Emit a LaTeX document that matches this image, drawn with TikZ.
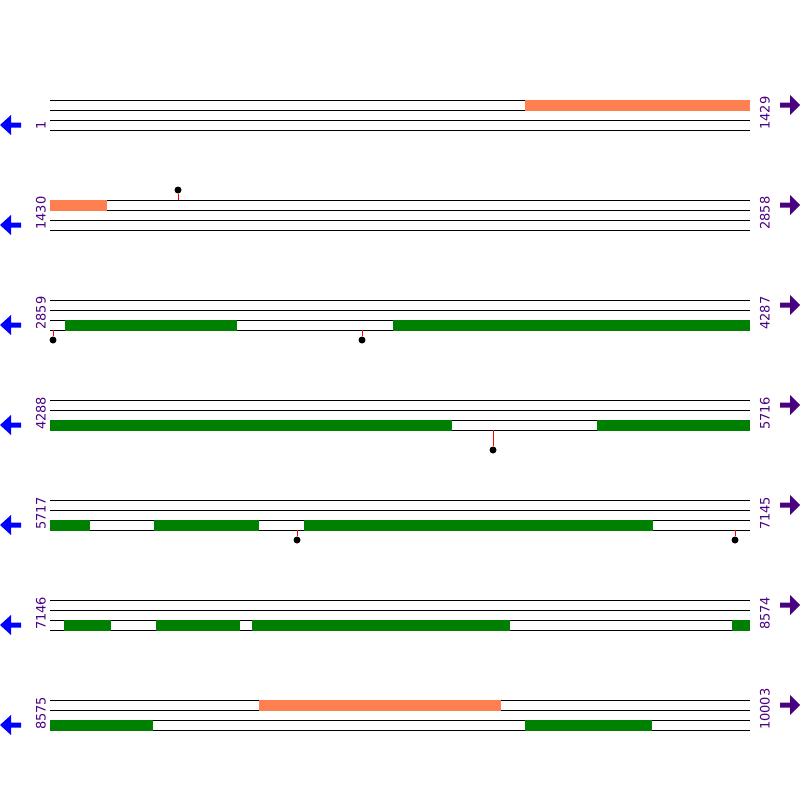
\documentclass[tikz,border=0pt]{standalone}
\usepackage{fontspec}
\setmainfont{DejaVu Sans}
\definecolor{motiforange}{HTML}{FF7F50}
\definecolor{orfgreen}{HTML}{008000}
\definecolor{seqpurple}{HTML}{4B0082}
\tikzset{
  track/.style={line width=1pt},
  orfbar/.style={fill=orfgreen},
  motifbar/.style={fill=motiforange},
  poslabel/.style={rotate=90, anchor=west, inner sep=0pt, text=seqpurple, font=\fontsize{13}{15}\selectfont},
  sitestem/.style={red, line width=1pt},
  sitedot/.style={fill=black, circle, inner sep=0pt, minimum size=7pt},
}
\begin{document}
\begin{tikzpicture}[x=1pt,y=-1pt]
  \useasboundingbox (0,0) rectangle (800,800);
  \fill[white] (0,0) rectangle (800,800);
  \foreach \r/\lo/\hi in {0/1/1429,1/1430/2858,2/2859/4287,3/4288/5716,4/5717/7145,5/7146/8574,6/8575/10003}{
    \pgfmathsetmacro\ytop{100+100*\r}
    \foreach \k in {0,...,3}{
      \pgfmathsetmacro\yk{\ytop+10*\k}
      \draw[track] (50,\yk) -- (750,\yk);
    }
    \pgfmathsetmacro\ybot{\ytop+30}
    \node[poslabel] (lo\r) at (41,\ybot) {\lo};
    \node[poslabel] (hi\r) at (765,\ybot) {\hi};
    \pgfmathsetmacro\yl{\ytop+25}
    \fill[blue] (0,\yl) -- ++(11,-10) -- ++(0,7.5) -- ++(10,0) -- ++(0,5) -- ++(-10,0) -- ++(0,7.5) -- cycle;
    \pgfmathsetmacro\yr{\ytop+5}
    \fill[seqpurple] (800,\yr) -- ++(-10,-10) -- ++(0,7.5) -- ++(-10,0) -- ++(0,5) -- ++(10,0) -- ++(0,7.5) -- cycle;
  }
  \foreach \r/\xa/\xb in {0/525/750,1/50/107,6/259/501}{
    \pgfmathsetmacro\ya{99.5+100*\r}
    \fill[motifbar] (\xa,\ya) rectangle (\xb,\ya+11);
  }
  \foreach \r/\xa/\xb in {2/65/237,2/393/750,3/50/452,3/597/750,4/50/90,4/154/259,4/304/653,
                          5/64/111,5/156/240,5/252/510,5/732/750,6/50/153,6/525/652}{
    \pgfmathsetmacro\ya{119.5+100*\r}
    \fill[orfbar] (\xa,\ya) rectangle (\xb,\ya+11);
  }
  \foreach \x/\ya/\yb [count=\i] in {178/200/190,53/330/340,362/330/340,493/430/450,297/530/540,735/530/540}{
    \coordinate (base\i) at (\x,\ya);
    \node[sitedot] (site\i) at (\x,\yb) {};
    \draw[sitestem] (base\i) -- (site\i);
  }
\end{tikzpicture}
\end{document}
